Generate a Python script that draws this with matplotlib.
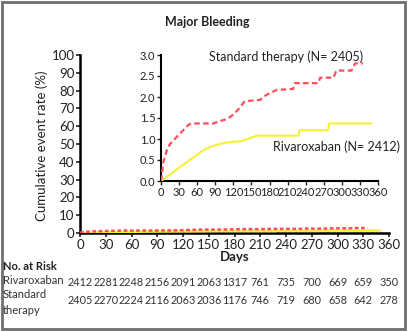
import matplotlib
matplotlib.use("Agg")
from matplotlib import pyplot as plt
from matplotlib.patches import Rectangle
import matplotlib.transforms as mtransforms

plt.rcParams['font.family'] = ['Lato', 'DejaVu Sans']

# curve data (days, cumulative event rate %)
std_days = [0, 4, 10, 15, 26, 37, 45, 50, 87, 98, 109, 120, 128, 139, 164,
            175, 192, 219, 222, 261, 264, 286, 291, 316, 322, 335]
std_rate = [0, 0.45, 0.75, 0.88, 1.05, 1.21, 1.33, 1.37, 1.37, 1.43, 1.47,
            1.58, 1.70, 1.90, 1.93, 2.05, 2.17, 2.19, 2.33, 2.33, 2.46, 2.46,
            2.63, 2.63, 2.80, 2.80]

riv_days = [0, 40, 73, 90, 109, 134, 159, 228, 230, 277, 279, 349]
riv_rate = [0, 0.42, 0.76, 0.85, 0.92, 0.95, 1.08, 1.08, 1.21, 1.21, 1.37, 1.37]

# number at risk table
risk_days = [0, 30, 60, 90, 120, 150, 180, 210, 240, 270, 300, 330, 360]
riv_risk = [2412, 2281, 2248, 2156, 2091, 2063, 1317, 761, 735, 700, 669, 659, 350]
std_risk = [2405, 2270, 2224, 2116, 2063, 2036, 1176, 746, 719, 680, 658, 642, 278]

W, H = 409, 331
fig = plt.figure(figsize=(W / 100, H / 100), dpi=100)


def fx(px):
    return px / W


def fy(py):
    return 1 - py / H


red = '#ff4d5e'
yellow = '#f7f034'
txt = '#222222'

# main axes
ax = fig.add_axes([fx(80), fy(233), fx(389) - fx(80), fy(55) - fy(233)])
ax.plot(riv_days, riv_rate, color=yellow, lw=1.8, zorder=3)
ax.plot(std_days, std_rate, color=red, lw=1.8, ls=(0, (1.5, 1)), zorder=3)
ax.set_xlim(0, 360)
ax.set_ylim(0, 100)
ax.set_xticks(range(0, 361, 30))
ax.set_yticks(range(0, 101, 10))
for s in ['top', 'right']:
    ax.spines[s].set_visible(False)
for s in ['left', 'bottom']:
    ax.spines[s].set_linewidth(1.8)
ax.tick_params(width=1.2, length=3, labelsize=9.5, pad=1, colors=txt)
ax.set_xlabel('Days', fontsize=9.5, fontweight='bold', labelpad=0, color=txt)
fig.text(fx(42), fy(146), 'Cumulative event rate (%)', rotation=90,
         ha='center', va='center', fontsize=9.5, color=txt)
fig.text(fx(207), fy(22), 'Major Bleeding', ha='center', va='center',
         fontsize=9, fontweight='bold', color=txt)

# number at risk
trans = mtransforms.blended_transform_factory(ax.transData, fig.transFigure)
for d, a, b in zip(risk_days, riv_risk, std_risk):
    ax.text(d, fy(282), str(a), transform=trans, ha='center', va='center',
            fontsize=7.8, color='#333333', clip_on=False)
    ax.text(d, fy(300), str(b), transform=trans, ha='center', va='center',
            fontsize=7.8, color='#333333', clip_on=False)
fig.text(fx(3), fy(266), 'No. at Risk', ha='left', va='center',
         fontsize=8, fontweight='bold', color=txt)
fig.text(fx(3), fy(281), 'Rivaroxaban', ha='left', va='center',
         fontsize=8, color='#333333')
fig.text(fx(3), fy(295), 'Standard', ha='left', va='center',
         fontsize=8, color='#333333')
fig.text(fx(3), fy(310), 'therapy', ha='left', va='center',
         fontsize=8, color='#333333')

# inset
ins = fig.add_axes([fx(161), fy(181), fx(378) - fx(161), fy(55) - fy(181)])
ins.plot(riv_days, riv_rate, color=yellow, lw=1.5, zorder=3)
ins.plot(std_days, std_rate, color=red, lw=1.6, ls=(0, (2.5, 1.5)), zorder=3)
ins.set_xlim(0, 360)
ins.set_ylim(0, 3.0)
ins.set_xticks(range(0, 361, 30))
ins.set_yticks([0, 0.5, 1.0, 1.5, 2.0, 2.5, 3.0])
ins.set_yticklabels(['0.0', '0.5', '1.0', '1.5', '2.0', '2.5', '3.0'])
for s in ['top', 'right']:
    ins.spines[s].set_visible(False)
for s in ['left', 'bottom']:
    ins.spines[s].set_linewidth(1.5)
ins.tick_params(width=1.0, length=3, labelsize=8, pad=1, colors=txt)
ins.patch.set_alpha(0)
ins.text(0.576, 0.984, 'Standard therapy (N= 2405)', transform=ins.transAxes,
         ha='center', va='center', fontsize=9, color=txt)
ins.text(0.81, 0.27, 'Rivaroxaban (N= 2412)', transform=ins.transAxes,
         ha='center', va='center', fontsize=9, color=txt, clip_on=False)

fig.patches.append(Rectangle((fx(2), fy(329)), fx(405) - fx(2), fy(2) - fy(329),
                             transform=fig.transFigure, fill=False,
                             edgecolor='#6e6e6e', lw=2))

fig.savefig('out.png', dpi=100)
